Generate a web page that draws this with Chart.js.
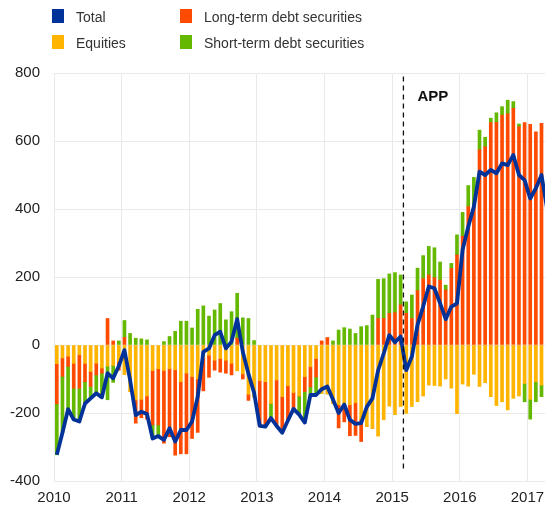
<!DOCTYPE html>
<html>
<head>
<meta charset="utf-8">
<script src="https://cdn.jsdelivr.net/npm/chart.js@4"></script>
<style>
body{margin:0;background:#fff;font-family:"Liberation Sans",Arial,sans-serif;}
.wrap{position:relative;width:545px;height:508px;}
.item{position:absolute;font-size:14px;color:#333;white-space:nowrap;line-height:16px;}
.item span{position:absolute;left:-24px;top:0;width:12px;height:14px;}
</style>
</head>
<body>
<div class="wrap">
	<canvas id="myChart" width="545" height="508"></canvas>
	<div class="item" style="left:76px;top:9px;"><span style="background:#003299"></span>Total</div>
	<div class="item" style="left:76px;top:35px;"><span style="background:#FFB400"></span>Equities</div>
	<div class="item" style="left:204px;top:9px;"><span style="background:#FF4B00"></span>Long-term debt securities</div>
	<div class="item" style="left:204px;top:35px;"><span style="background:#65B800"></span>Short-term debt securities</div>
</div>
<script>
// months shown (Jan 2010 - Apr 2017)
const months = [
	'2010-01','2010-02','2010-03','2010-04','2010-05','2010-06','2010-07','2010-08','2010-09','2010-10','2010-11','2010-12',
	'2011-01','2011-02','2011-03','2011-04','2011-05','2011-06','2011-07','2011-08','2011-09','2011-10','2011-11','2011-12',
	'2012-01','2012-02','2012-03','2012-04','2012-05','2012-06','2012-07','2012-08','2012-09','2012-10','2012-11','2012-12',
	'2013-01','2013-02','2013-03','2013-04','2013-05','2013-06','2013-07','2013-08','2013-09','2013-10','2013-11','2013-12',
	'2014-01','2014-02','2014-03','2014-04','2014-05','2014-06','2014-07','2014-08','2014-09','2014-10','2014-11','2014-12',
	'2015-01','2015-02','2015-03','2015-04','2015-05','2015-06','2015-07','2015-08','2015-09','2015-10','2015-11','2015-12',
	'2016-01','2016-02','2016-03','2016-04','2016-05','2016-06','2016-07','2016-08','2016-09','2016-10','2016-11','2016-12',
	'2017-01','2017-02','2017-03','2017-04'
];

const equities = [
	-55,-38,-33,-54,-29,-54,-78,-54,-68,-62,-60,-50,
	-87,-137,-162,-160,-150,-75,-70,-75,-70,-73,-108,-83,
	-93,-100,-40,-30,-45,-40,-45,-54,-76,-85,-145,-153,
	-105,-108,-172,-103,-152,-120,-140,-150,-93,-64,-40,-142,
	-144,-172,-176,-176,-176,-170,-220,-239,-245,-268,-220,-180,
	-205,-181,-201,-181,-167,-150,-118,-119,-121,-100,-127,-202,
	-115,-121,-86,-122,-111,-152,-178,-167,-191,-157,-150,-113,
	-160,-108,-118,-120
];
const longTerm = [
	-118,-54,-30,-73,-98,-54,-44,-34,-15,78,12,-24,
	22,0,-68,-54,-68,-160,-165,-214,-200,-251,-212,-237,
	-182,-157,-95,-65,-29,-40,-38,-34,20,-15,-18,0,
	-133,-132,0,-135,-106,-102,-48,0,-44,-59,-54,12,
	22,0,-68,-50,-91,-96,-64,0,0,78,78,93,
	95,118,93,78,160,195,206,198,191,162,225,265,
	320,407,412,574,583,654,655,676,680,696,642,654,
	649,627,652,560
];
const shortTerm = [
	-150,-166,-126,-92,-98,-64,-35,-54,-71,-99,-50,12,
	50,34,20,18,15,-40,-33,10,25,40,70,70,
	50,105,115,85,103,122,74,98,132,80,78,13,
	0,0,-43,0,0,0,0,-55,-91,-24,-53,0,
	0,12,44,51,47,34,54,57,88,115,117,116,
	118,88,34,69,66,68,84,88,53,14,15,59,
	70,62,81,58,28,13,28,25,40,20,8,-54,
	-58,-59,-34,-40
];
const total = [
	-323,-258,-189,-219,-225,-172,-157,-142,-154,-83,-98,-62,
	-15,-103,-206,-196,-203,-275,-268,-279,-245,-284,-250,-250,
	-225,-152,-20,-10,29,39,-10,10,76,-20,-85,-140,
	-238,-240,-215,-238,-258,-222,-188,-205,-228,-147,-147,-130,
	-122,-160,-200,-175,-220,-232,-230,-182,-157,-75,-25,29,
	8,25,-74,-34,59,113,172,167,123,76,113,122,
	280,348,407,510,500,515,505,534,529,559,500,485,
	431,461,500,400
];

const yearTicks = [2010, 2011, 2012, 2013, 2014, 2015, 2016, 2017];
const valueTicks = [-400, -200, 0, 200, 400, 600, 800];
const appStart = '2015-03';

// month label -> position on the year axis (middle of the month)
function monthPos(m){
	let p = m.split('-');
	return Number(p[0]) + (Number(p[1]) - 0.5) / 12;
}
function toPoints(values){
	return values.map((v, i) => ({x: monthPos(months[i]), y: v}));
}

const gridColor = '#e9e9e9';

const appMarker = {
	id: 'appMarker',
	afterDatasetsDraw(chart){
		const ctx = chart.ctx;
		const x = chart.scales.x, y = chart.scales.y;
		let p = appStart.split('-');
		let px = x.getPixelForValue(Number(p[0]) + (Number(p[1]) - 1) / 12);
		ctx.save();
		ctx.strokeStyle = '#111';
		ctx.lineWidth = 1.3;
		ctx.setLineDash([5, 4]);
		ctx.beginPath();
		ctx.moveTo(px, y.getPixelForValue(790));
		ctx.lineTo(px, y.getPixelForValue(-370));
		ctx.stroke();
		ctx.setLineDash([]);
		ctx.fillStyle = '#111';
		ctx.font = 'bold 15px "Liberation Sans", Arial, sans-serif';
		ctx.textAlign = 'left';
		ctx.textBaseline = 'middle';
		ctx.fillText('APP', px + 14, y.getPixelForValue(730));
		ctx.restore();
	}
};

const ctx = document.getElementById('myChart');

new Chart(ctx, {
	data: {
		datasets: [
			{type: 'line', label: 'Total', data: toPoints(total), stack: 'total', order: 0,
				borderColor: '#003299', borderWidth: 3.8, pointRadius: 0, tension: 0, borderJoinStyle: 'round'},
			{type: 'bar', label: 'Equities', data: toPoints(equities), stack: 'bars', order: 1,
				backgroundColor: '#FFB400', barThickness: 3},
			{type: 'bar', label: 'Long-term debt securities', data: toPoints(longTerm), stack: 'bars', order: 1,
				backgroundColor: '#FF4B00', barThickness: 3},
			{type: 'bar', label: 'Short-term debt securities', data: toPoints(shortTerm), stack: 'bars', order: 1,
				backgroundColor: '#65B800', barThickness: 3}
		]
	},
	options: {
		responsive: false,
		animation: false,
		layout: {padding: {top: 73, right: 0, bottom: 0, left: 0}},
		plugins: {legend: {display: false}, tooltip: {enabled: false}},
		scales: {
			x: {
				type: 'linear', min: 2010, max: 2017.26, stacked: true, offset: false,
				afterBuildTicks: (s) => { s.ticks = yearTicks.map(v => ({value: v})); },
				afterFit: (s) => { s.height = 27; s.paddingLeft = 0; s.paddingRight = 0; },
				grid: {color: gridColor, drawTicks: false, offset: false},
				border: {color: gridColor},
				ticks: {padding: 8, color: '#222', font: {family: '"Liberation Sans", Arial, sans-serif', size: 15},
					maxRotation: 0, autoSkip: false, callback: (v) => String(v)}
			},
			y: {
				min: -400, max: 800, stacked: true,
				afterBuildTicks: (s) => { s.ticks = valueTicks.map(v => ({value: v})); },
				afterFit: (s) => { s.width = 54; },
				grid: {color: gridColor, drawTicks: false},
				border: {color: gridColor},
				ticks: {padding: 14, color: '#222', font: {family: '"Liberation Sans", Arial, sans-serif', size: 15},
					callback: (v) => String(v)}
			}
		}
	},
	plugins: [appMarker]
});
</script>
</body>
</html>
